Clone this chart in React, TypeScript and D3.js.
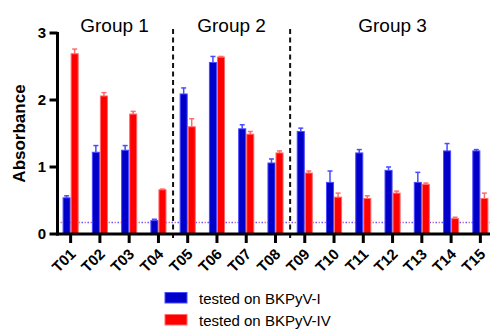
import * as d3 from "d3";

const categories = ["T01","T02","T03","T04","T05","T06","T07","T08","T09","T10","T11","T12","T13","T14","T15"];
const seriesNames = ["tested on BKPyV-I", "tested on BKPyV-IV"];
const blueMeans = [0.54,1.22,1.25,0.2,2.09,2.56,1.57,1.06,1.53,0.77,1.21,0.95,0.77,1.24,1.24];
const blueErr = [0.03,0.1,0.07,0.02,0.09,0.09,0.06,0.06,0.05,0.17,0.05,0.05,0.15,0.11,0.02];
const redMeans = [2.69,2.06,1.79,0.66,1.6,2.64,1.49,1.21,0.91,0.55,0.53,0.61,0.74,0.23,0.53];
const redErr = [0.07,0.05,0.04,0.01,0.12,0.01,0.04,0.03,0.03,0.06,0.04,0.03,0.02,0.02,0.08];
const yTicks = [0, 1, 2, 3];
const groups = [
  { name: "Group 1", from: "T01", to: "T04" },
  { name: "Group 2", from: "T05", to: "T08" },
  { name: "Group 3", from: "T09", to: "T15" },
];
const threshold = 0.17;

const W = 491, H = 329;
const font = "Arial, 'Liberation Sans', sans-serif";
const colors = ["#0000c8", "#ff0000"];
const strokes = ["#4a4aff", "#ff6a6a"];

export default function App() {
  const x = d3.scaleBand<string>().domain(categories).range([56, 495]).paddingInner(0.45).paddingOuter(0.225);
  const inner = d3.scaleBand<number>().domain([0, 1]).range([0, x.bandwidth()]).padding(0);
  const y = d3.scaleLinear().domain([0, 3]).range([234, 33]);
  const axisX0 = 57.5, axisX1 = 490;
  const series = [
    { means: blueMeans, err: blueErr },
    { means: redMeans, err: redErr },
  ];
  const mid = (c: string) => (x(c) as number) + x.bandwidth() / 2;
  const dividers = [
    (mid("T04") + mid("T05")) / 2,
    (mid("T08") + mid("T09")) / 2,
  ];

  return (
    <svg width={W} height={H} style={{ position: "absolute", left: 0, top: 0, background: "#fff" }} fontFamily={font}>
      {/* threshold dotted lines */}
      <line x1={axisX0} x2={axisX1} y1={y(threshold)} y2={y(threshold)} stroke="#5a5aff" strokeWidth={1.5} strokeDasharray="1.5,4.5" />
      <line x1={axisX0 + 3} x2={axisX1} y1={y(threshold)} y2={y(threshold)} stroke="#ff6a8a" strokeWidth={1.5} strokeDasharray="1.5,4.5" />

      {/* bars */}
      {series.map((s, si) => (
        <g key={si}>
          {categories.map((c, i) => {
            const bx = (x(c) as number) + (inner(si) as number);
            const bw = inner.bandwidth();
            const top = y(s.means[i]);
            const et = y(s.means[i] + s.err[i]);
            const cx = bx + bw / 2;
            return (
              <g key={c}>
                <line x1={cx} x2={cx} y1={top} y2={et} stroke={strokes[si]} strokeWidth={1.5} />
                <line x1={cx - 2.5} x2={cx + 2.5} y1={et} y2={et} stroke={strokes[si]} strokeWidth={1.5} />
                <rect x={bx + 0.5} y={top} width={bw - 1} height={y(0) - top} fill={colors[si]} stroke={strokes[si]} strokeWidth={1} />
              </g>
            );
          })}
        </g>
      ))}

      {/* group dividers */}
      {dividers.map((dx, i) => (
        <line key={i} x1={dx} x2={dx} y1={29} y2={240} stroke="#111" strokeWidth={2} strokeDasharray="5,3.5" />
      ))}

      {/* group labels */}
      {groups.map((g) => {
        const gx = (mid(g.from) + mid(g.to)) / 2;
        return (
          <text key={g.name} x={gx} y={32} textAnchor="middle" fontSize={19} fill="#000">{g.name}</text>
        );
      })}

      {/* y axis */}
      <line x1={axisX0} x2={axisX0} y1={y(3) - 1} y2={y(0) + 1.5} stroke="#000" strokeWidth={3} />
      {yTicks.map((t) => (
        <g key={t}>
          <line x1={axisX0 - 8} x2={axisX0} y1={y(t)} y2={y(t)} stroke="#000" strokeWidth={3} />
          <text x={46} y={y(t)} dy="0.36em" textAnchor="end" fontSize={15} fontWeight="bold">{t}</text>
        </g>
      ))}
      <text transform={`translate(25,${(y(0) + y(3)) / 2}) rotate(-90)`} textAnchor="middle" fontSize={17} fontWeight="bold">Absorbance</text>

      {/* x axis */}
      <line x1={axisX0 - 1.5} x2={axisX1} y1={y(0)} y2={y(0)} stroke="#000" strokeWidth={3} />
      {categories.map((c) => (
        <g key={c}>
          <line x1={mid(c)} x2={mid(c)} y1={y(0)} y2={y(0) + 9} stroke="#000" strokeWidth={3} />
          <text transform={`translate(${mid(c) + 6},${y(0) + 21}) rotate(-45)`} textAnchor="end" fontSize={15} fontWeight="bold">{c}</text>
        </g>
      ))}

      {/* legend */}
      {seriesNames.map((n, i) => (
        <g key={n} transform={`translate(165,${292.5 + i * 22})`}>
          <rect x={0} y={0} width={22} height={10.5} fill={colors[i]} stroke={strokes[i]} strokeWidth={1} />
          <text x={34} y={11} fontSize={15}>{n}</text>
        </g>
      ))}
    </svg>
  );
}
